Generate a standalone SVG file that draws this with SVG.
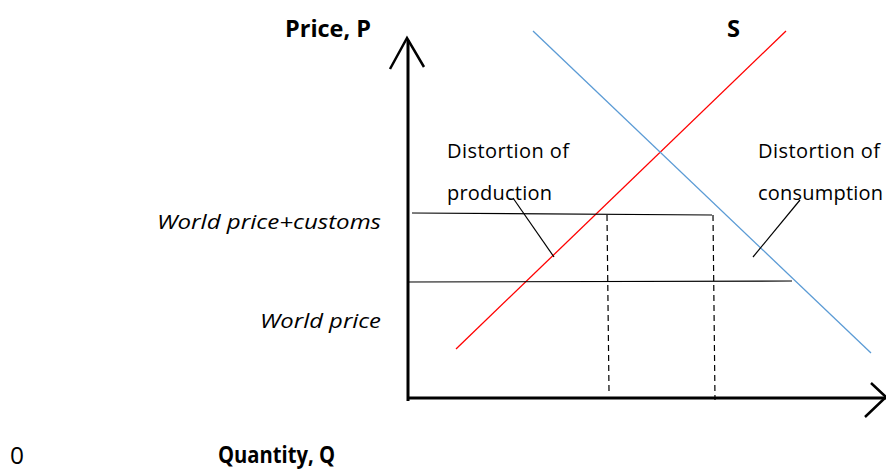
<svg xmlns="http://www.w3.org/2000/svg" width="886" height="471" viewBox="0 0 886 471">
<style>
text{font-family:"Open Sans","Liberation Sans",sans-serif;font-size:20px;fill:#000}
.b{font-weight:bold;font-size:24px}
.i{font-style:italic}
.ax{stroke:#000;stroke-width:3;fill:none}
.ah{stroke:#000;stroke-width:2.5;fill:none}
.thin{stroke:#000;stroke-width:1.2;fill:none}
.dash{stroke:#000;stroke-width:1.2;stroke-dasharray:6,4;fill:none}
</style>
<rect width="886" height="471" fill="#fff"/>
<g id="axes">
<line class="ax" x1="408" y1="40" x2="408" y2="401"/>
<polyline class="ah" points="390,69 407,38 424,67"/>
<line class="ax" x1="407" y1="398" x2="886" y2="398"/>
<polyline class="ah" points="871,383 886,397 865,417"/>
</g>
<g id="supply"><line x1="456" y1="349" x2="786" y2="31" stroke="#ff0000" stroke-width="1.3"/></g>
<g id="demand"><line x1="533" y1="31" x2="871" y2="353" stroke="#5b9bd5" stroke-width="1.3"/></g>
<g id="connectors">
<line class="thin" x1="412" y1="213" x2="712" y2="215"/>
<line class="thin" x1="407" y1="282" x2="792" y2="281"/>
<line class="dash" x1="607" y1="215" x2="609" y2="391"/>
<line class="dash" x1="713" y1="215" x2="715" y2="400"/>
<line class="thin" x1="513" y1="198" x2="554" y2="257"/>
<line class="thin" x1="800" y1="200" x2="753" y2="257"/>
</g>
<g id="labels">
<text class="b" x="285" y="37" textLength="86" lengthAdjust="spacingAndGlyphs">Price, P</text>
<text class="b" x="727" y="37" textLength="13" lengthAdjust="spacingAndGlyphs">S</text>
<text x="447" y="158" textLength="122">Distortion of</text>
<text x="447" y="200" textLength="105">production</text>
<text x="758" y="158" textLength="122">Distortion of</text>
<text x="758" y="200" textLength="125">consumption</text>
<text class="i" x="157" y="229" textLength="224" lengthAdjust="spacingAndGlyphs">World price+customs</text>
<text class="i" x="260" y="328" textLength="121" lengthAdjust="spacingAndGlyphs">World price</text>
<text x="10" y="464" style="font-size:24px" textLength="14" lengthAdjust="spacingAndGlyphs">0</text>
<text class="b" x="218" y="463" textLength="117" lengthAdjust="spacingAndGlyphs">Quantity, Q</text>
</g>
</svg>
